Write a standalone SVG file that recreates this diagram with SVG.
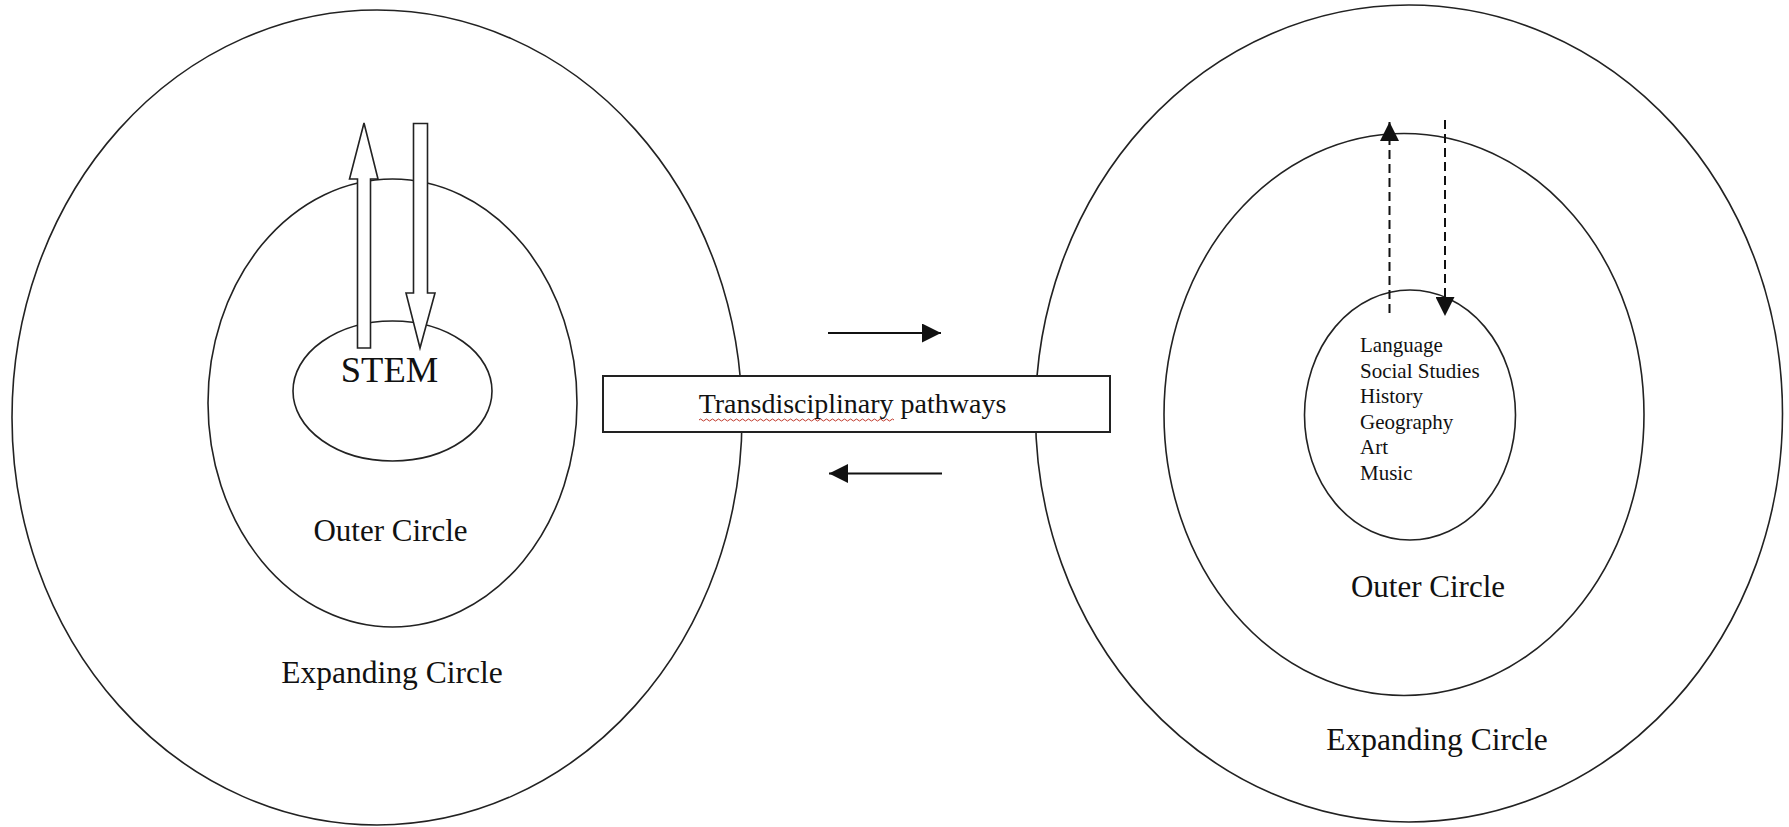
<svg xmlns="http://www.w3.org/2000/svg" width="1789" height="827" viewBox="0 0 1789 827">
<style>
.ring{fill:none;stroke:#222;stroke-width:1.6}
.box{fill:#fff;stroke:#222;stroke-width:2}
.fat{fill:#fff;stroke:#222;stroke-width:1.6;stroke-linejoin:miter}
.t{font-family:"Liberation Serif","Times New Roman",serif;fill:#111}
.con{stroke:#111;stroke-width:2;fill:none}
.dash{stroke:#111;stroke-width:2;fill:none;stroke-dasharray:9 5}
</style>
<defs>
<marker id="ah" viewBox="0 0 10 10" refX="10" refY="5" markerWidth="19" markerHeight="19" markerUnits="userSpaceOnUse" orient="auto">
<path d="M0,0 L10,5 L0,10 Z" fill="#111"/>
</marker>
</defs>
<rect width="1789" height="827" fill="#fff"/>
<g id="left-expanding">
<ellipse class="ring" cx="377" cy="417.5" rx="365" ry="407.5"/>
<text class="t" x="392" y="683" font-size="31.5" text-anchor="middle">Expanding Circle</text>
</g>
<g id="left-outer">
<ellipse class="ring" cx="392.5" cy="403" rx="184.5" ry="224"/>
<text class="t" x="390.5" y="541" font-size="31" text-anchor="middle">Outer Circle</text>
</g>
<g id="stem">
<ellipse class="ring" cx="392.5" cy="391" rx="99.5" ry="70"/>
<text class="t" x="389.5" y="382" font-size="36.5" text-anchor="middle">STEM</text>
</g>
<g id="right-expanding">
<ellipse class="ring" cx="1409" cy="413.5" rx="373.5" ry="408.5"/>
<text class="t" x="1437" y="750" font-size="31.5" text-anchor="middle">Expanding Circle</text>
</g>
<g id="right-outer">
<ellipse class="ring" cx="1404" cy="414.5" rx="240" ry="281"/>
<text class="t" x="1428" y="597" font-size="31" text-anchor="middle">Outer Circle</text>
</g>
<g id="right-core">
<ellipse class="ring" cx="1410" cy="415" rx="105.5" ry="125"/>
<text class="t" font-size="21">
<tspan x="1360" y="352">Language</tspan>
<tspan x="1360" y="377.5">Social Studies</tspan>
<tspan x="1360" y="403">History</tspan>
<tspan x="1360" y="428.5">Geography</tspan>
<tspan x="1360" y="454">Art</tspan>
<tspan x="1360" y="479.5">Music</tspan>
</text>
</g>
<g id="pathways">
<rect class="box" x="603" y="376" width="507" height="56"/>
<text class="t" x="852.5" y="413" font-size="28" text-anchor="middle">Transdisciplinary pathways</text>
<path d="M699,420 q1.5,-2 3,0 t3,0 t3,0 t3,0 t3,0 t3,0 t3,0 t3,0 t3,0 t3,0 t3,0 t3,0 t3,0 t3,0 t3,0 t3,0 t3,0 t3,0 t3,0 t3,0 t3,0 t3,0 t3,0 t3,0 t3,0 t3,0 t3,0 t3,0 t3,0 t3,0 t3,0 t3,0 t3,0 t3,0 t3,0 t3,0 t3,0 t3,0 t3,0 t3,0 t3,0 t3,0 t3,0 t3,0 t3,0 t3,0 t3,0 t3,0 t3,0 t3,0 t3,0 t3,0 t3,0 t3,0 t3,0 t3,0 t3,0 t3,0 t3,0 t3,0 t3,0 t3,0 t3,0 t3,0 t3,0" fill="none" stroke="#c0392b" stroke-width="1"/>
</g>
<g id="connectors">
<polygon class="fat" points="357.5,348 357.5,179 349.5,179 364,123 378,179 370.5,179 370.5,348"/>
<polygon class="fat" points="413.5,123.5 427.5,123.5 427.5,293 435,293 420,348 406,293 413.5,293"/>
<line class="con" x1="828" y1="333" x2="941" y2="333" marker-end="url(#ah)"/>
<line class="con" x1="942" y1="473.5" x2="829" y2="473.5" marker-end="url(#ah)"/>
<line class="dash" x1="1389.5" y1="313" x2="1389.5" y2="122" marker-end="url(#ah)"/>
<line class="dash" x1="1445" y1="120" x2="1445" y2="316" marker-end="url(#ah)"/>
</g>
</svg>
